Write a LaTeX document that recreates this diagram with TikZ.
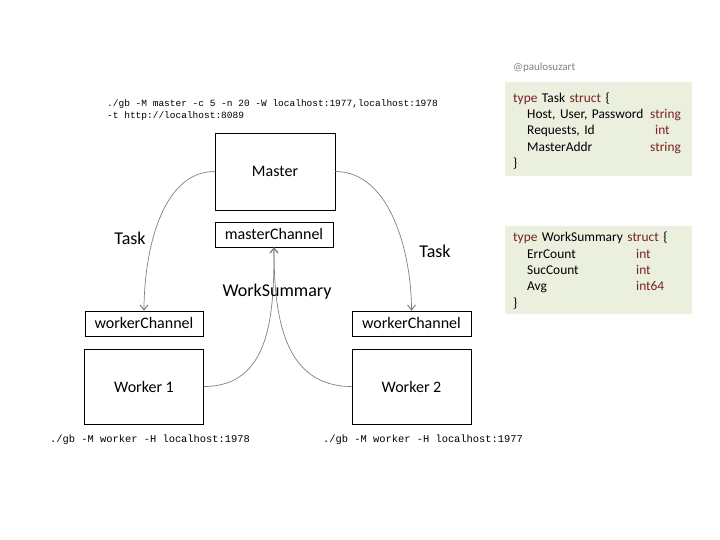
\documentclass[tikz,border=0pt]{standalone}
\usepackage{fontspec}
\setmainfont{Carlito}
\newfontfamily\codefont{Liberation Mono}
\usepackage{tikz}
\usetikzlibrary{arrows.meta, positioning}
\usepackage{xcolor}
\definecolor{gokeyword}{RGB}{122, 32, 32}
\definecolor{structfill}{RGB}{235, 239, 222}
\definecolor{flowgray}{RGB}{128, 128, 128}

\begin{document}
\begin{tikzpicture}[
    x=1pt, y=-1pt,
    nodebox/.style={draw, line width=0.6pt, inner sep=0pt, align=center,
                    font=\fontsize{16}{18}\selectfont},
    chan/.style={nodebox, minimum width=118pt, minimum height=25pt},
    proc/.style={nodebox, minimum width=119pt, minimum height=76pt},
    flowlabel/.style={font=\fontsize{18}{20}\selectfont},
    cmd/.style={font=\codefont\fontsize{9.5}{12}\selectfont, anchor=west, align=left, inner sep=0pt},
    structbox/.style={fill=structfill, anchor=north west, inner ysep=0pt, inner xsep=8pt,
                      text width=171pt, font=\fontsize{13.4}{16.3}\selectfont, align=left},
    arrow/.style={-{Straight Barb[length=5pt, width=8pt, line width=1pt]}, flowgray, line width=0.7pt},
  ]
    \useasboundingbox (0,0) rectangle (720,540);

    % Master
    \node[proc, minimum width=120pt, minimum height=77pt] (master) at (275,171.5) {Master};
    \node[chan] (mchan) at (274,234.5) {masterChannel};

    % Workers
    \node[chan] (wchan1) at (144,323.5) {workerChannel};
    \node[proc, minimum height=75pt] (worker1) at (144,386.5) {Worker 1};
    \node[chan, minimum width=119pt] (wchan2) at (411.5,323.5) {workerChannel};
    \node[proc, minimum height=75pt] (worker2) at (411.5,386.5) {Worker 2};

    % Commands
    \node[cmd] (mcmd) at (107,110) {./gb -M master -c 5 -n 20 -W localhost:1977,localhost:1978\\-t http://localhost:8089};
    \node[cmd, font=\codefont\fontsize{10.4}{12}\selectfont] (wcmd1) at (50,440) {./gb -M worker -H localhost:1978};
    \node[cmd, font=\codefont\fontsize{10.4}{12}\selectfont] (wcmd2) at (323,440) {./gb -M worker -H localhost:1977};

    % Arrows
    \draw[arrow] (master.west) to[out=180, in=90, looseness=0.9] (wchan1.north);
    \draw[arrow] (master.east) to[out=0, in=90, looseness=0.9] (wchan2.north);
    \draw[arrow] (worker1.east) to[out=0, in=-90, looseness=1.1] (mchan.south);
    \draw[arrow] (worker2.west) to[out=180, in=-90, looseness=1.1] (mchan.south);

    \node[flowlabel] (task1) at (130,238) {Task};
    \node[flowlabel] (task2) at (435,251) {Task};
    \node[flowlabel] (wsum) at (277,292) {WorkSummary};

    % Structs
    \node[font=\fontsize{11}{13}\selectfont, text=gray, anchor=west, inner sep=0pt] (author) at (513,68) {@paulosuzart};

    \node[structbox, minimum height=94pt] (taskdef) at (505,82) {%
      \raisebox{-2.5pt}[\height][\depth]{\begin{tabular}{@{}p{137pt}@{}l@{}}
        \multicolumn{2}{@{}l@{}}{\textcolor{gokeyword}{type} Task \textcolor{gokeyword}{struct} \{}\\
        \hspace*{14pt}Host, User, Password & \textcolor{gokeyword}{string}\\
        \hspace*{14pt}Requests, Id & \hspace*{5pt}\textcolor{gokeyword}{int}\\
        \hspace*{14pt}MasterAddr & \textcolor{gokeyword}{string}\\
        \}&
      \end{tabular}}};

    \node[structbox, minimum height=88pt] (sumdef) at (505,226) {%
      \raisebox{-1pt}[\height][\depth]{\begin{tabular}{@{}p{123pt}@{}l@{}}
        \multicolumn{2}{@{}l@{}}{\textcolor{gokeyword}{type} WorkSummary \textcolor{gokeyword}{struct} \{}\\
        \hspace*{14pt}ErrCount & \textcolor{gokeyword}{int}\\
        \hspace*{14pt}SucCount & \textcolor{gokeyword}{int}\\
        \hspace*{14pt}Avg & \textcolor{gokeyword}{int64}\\
        \}&
      \end{tabular}}};
\end{tikzpicture}
\end{document}
